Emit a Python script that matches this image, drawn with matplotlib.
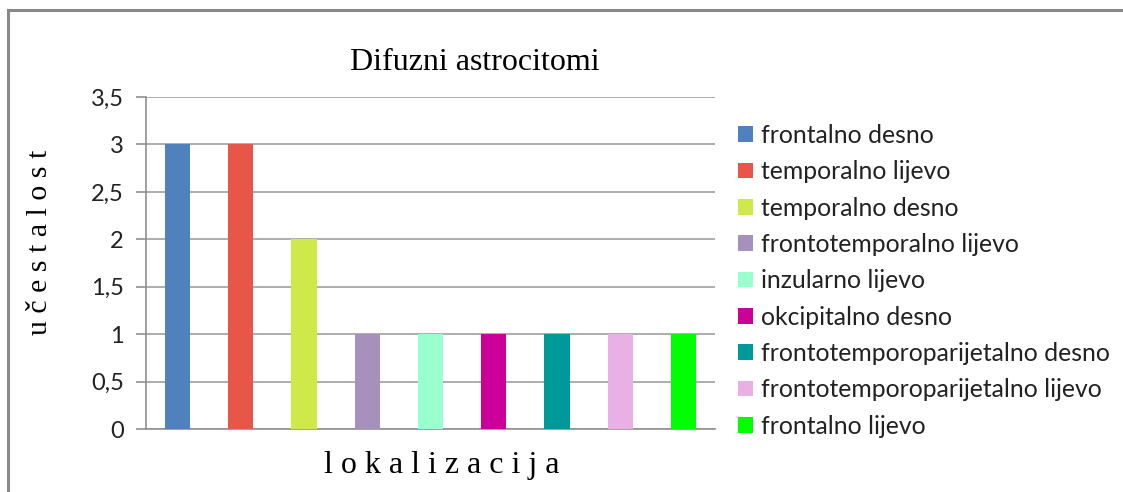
import matplotlib.pyplot as plt
from matplotlib.lines import Line2D
from matplotlib.ticker import FuncFormatter

# data
lokacije = ['frontalno desno', 'temporalno lijevo', 'temporalno desno',
            'frontotemporalno lijevo', 'inzularno lijevo', 'okcipitalno desno',
            'frontotemporoparijetalno desno', 'frontotemporoparijetalno lijevo',
            'frontalno lijevo']
ucestalost = [3, 3, 2, 1, 1, 1, 1, 1, 1]
boje = ['#4f81bd', '#e8564a', '#cfe84a', '#a591bc', '#99ffcc',
        '#cc0099', '#009999', '#e8b0e4', '#00ff00']

W, H = 1123, 492
fig = plt.figure(figsize=(W / 100, H / 100), dpi=100)
ax = fig.add_axes([146 / W, 1 - 429 / H, (715 - 146) / W, (429 - 97) / H])

for i in range(len(lokacije)):
    ax.bar(i, ucestalost[i], width=0.4, color=boje[i], label=lokacije[i], zorder=3)

ax.set_xlim(-0.5, len(lokacije) - 0.5)
ax.set_ylim(0, 3.5)
ax.set_yticks([0, 0.5, 1, 1.5, 2, 2.5, 3, 3.5])
ax.yaxis.set_major_formatter(FuncFormatter(lambda v, p: ('%g' % v).replace('.', ',')))
ax.set_xticks([])
ax.grid(axis='y', color='#a0a0a0', linewidth=1.2, zorder=0)
for s in ['top', 'right']:
    ax.spines[s].set_visible(False)
for s in ['left', 'bottom']:
    ax.spines[s].set_color('#909090')
    ax.spines[s].set_linewidth(1.2)
ax.tick_params(axis='y', length=7, color='#909090', width=1.2, pad=9,
               labelsize=17, labelcolor='#222222')
for t in ax.get_yticklabels():
    t.set_family('Lato')

fig.text(475 / W, 1 - 62 / H, 'Difuzni astrocitomi', family='Liberation Serif',
         fontsize=23, ha='center', va='center')
fig.text(40 / W, 1 - 242 / H, 'u č e s t a l o s t', family='Liberation Serif',
         fontsize=21.5, rotation=90, ha='center', va='center')
fig.text(442 / W, 1 - 465 / H, 'l o k a l i z a c i j a', family='Liberation Serif',
         fontsize=23, ha='center', va='center')

leg = fig.legend(loc='upper left', bbox_to_anchor=(728 / W, 1 - 114 / H),
                 frameon=False, prop={'family': 'Lato', 'size': 17.8},
                 handlelength=0.6, handleheight=0.6, handletextpad=0.33,
                 labelspacing=0.54, borderaxespad=0)
for t in leg.get_texts():
    t.set_color('#222222')

# chart frame
fig.add_artist(Line2D([8 / W, 1], [1 - 10 / H, 1 - 10 / H], color='#888888', linewidth=2.2))
fig.add_artist(Line2D([8 / W, 8 / W], [0, 1 - 10 / H], color='#888888', linewidth=2.2))

plt.savefig('out.png', dpi=100)
